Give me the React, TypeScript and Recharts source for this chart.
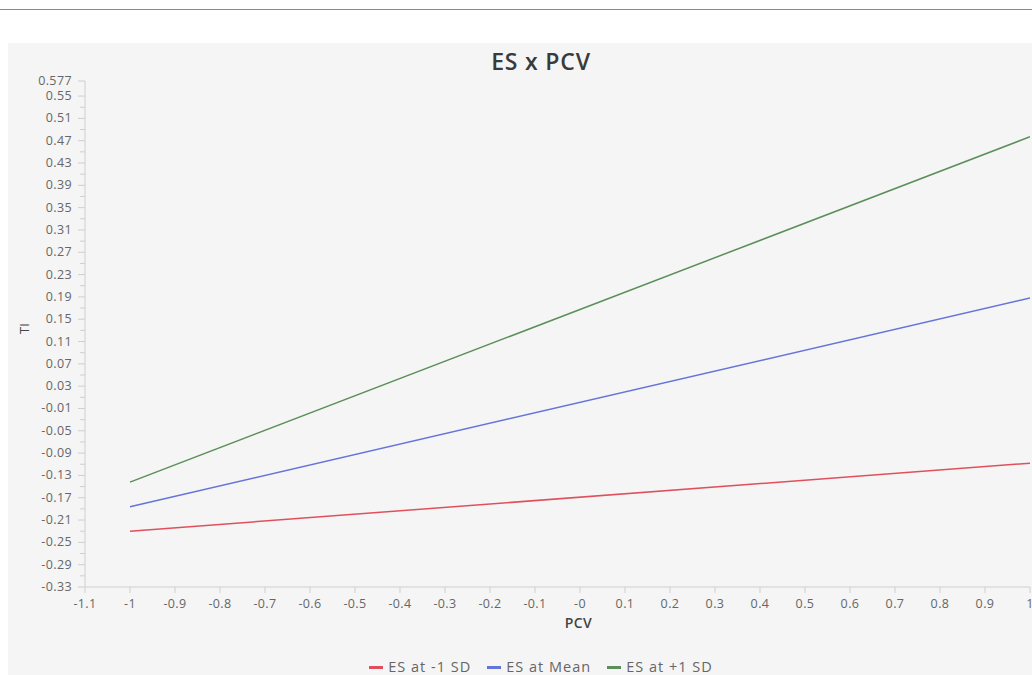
import React from 'react';
import { LineChart, Line, XAxis, YAxis, Legend, Label } from 'recharts';

const pcv = [-1, 1];
const esMinus1SD = [-0.23, -0.108];
const esMean = [-0.186, 0.188];
const esPlus1SD = [-0.142, 0.477];

const seriesNames = ['ES at -1 SD', 'ES at Mean', 'ES at +1 SD'];
const seriesColors = ['#e0505c', '#6474d8', '#5a8f5a'];

const xTicks = [-1.1, -1, -0.9, -0.8, -0.7, -0.6, -0.5, -0.4, -0.3, -0.2, -0.1, 0, 0.1, 0.2, 0.3, 0.4, 0.5, 0.6, 0.7, 0.8, 0.9, 1];
const xTickLabels = ['-1.1', '-1', '-0.9', '-0.8', '-0.7', '-0.6', '-0.5', '-0.4', '-0.3', '-0.2', '-0.1', '-0', '0.1', '0.2', '0.3', '0.4', '0.5', '0.6', '0.7', '0.8', '0.9', '1'];

const yMajorTicks = [0.577, 0.55, 0.51, 0.47, 0.43, 0.39, 0.35, 0.31, 0.27, 0.23, 0.19, 0.15, 0.11, 0.07, 0.03, -0.01, -0.05, -0.09, -0.13, -0.17, -0.21, -0.25, -0.29, -0.33];
const yMinorTicks = [0.53, 0.49, 0.45, 0.41, 0.37, 0.33, 0.29, 0.25, 0.21, 0.17, 0.13, 0.09, 0.05, 0.01, -0.03, -0.07, -0.11, -0.15, -0.19, -0.23, -0.27, -0.31];

const data = pcv.map((x, i) => ({
  pcv: x,
  minus: esMinus1SD[i],
  mean: esMean[i],
  plus: esPlus1SD[i],
}));

const FONT = '"Open Sans", "Noto Sans", sans-serif';

const YTick = (props: any) => {
  const { x, y, payload } = props;
  const v = payload.value;
  const isMajor = yMajorTicks.some((t) => Math.abs(t - v) < 1e-9);
  const label = isMajor ? (Math.abs(v - 0.577) < 1e-9 ? '0.577' : String(v)) : '';
  return (
    <g>
      <line x1={isMajor ? x + 1 : x + 3} x2={x + 8} y1={y} y2={y} stroke="#cfcfcf" strokeWidth={1} />
      {label && (
        <text x={x - 5} y={y} dy={4} textAnchor="end" fill="#666" fontSize={12.5} letterSpacing={0.4} fontFamily={FONT}>
          {label}
        </text>
      )}
    </g>
  );
};

const LegendContent = () => (
  <div style={{ height: 43, display: 'flex', justifyContent: 'center', alignItems: 'flex-end', paddingLeft: 44, boxSizing: 'border-box', fontFamily: FONT, fontSize: 14.5, letterSpacing: 1, color: '#666' }}>
    {seriesNames.map((n, i) => (
      <div key={n} style={{ display: 'flex', alignItems: 'center', marginRight: i < 2 ? 16 : 0, lineHeight: '16px' }}>
        <span style={{ display: 'inline-block', width: 14, height: 3, background: seriesColors[i], marginRight: 5 }} />
        <span>{n}</span>
      </div>
    ))}
  </div>
);

export default function App() {
  return (
    <div style={{ position: 'fixed', top: 0, left: 0, width: 1032, height: 675, overflow: 'hidden', background: '#ffffff' }}>
      <div style={{ position: 'absolute', top: 9, left: 0, width: 1032, height: 1, background: '#8a8a8a' }} />
      <div style={{ position: 'absolute', top: 43, left: 8, width: 1024, height: 632, background: '#f5f5f5' }}>
        <div style={{ position: 'absolute', top: 2, left: 0, width: 1066, textAlign: 'center', fontFamily: FONT, fontSize: 23, letterSpacing: 0.8, fontWeight: 600, color: '#3a3a3a' }}>
          ES x PCV
        </div>
        <LineChart width={1024} height={632} data={data} margin={{ top: 38, right: 2, left: 0, bottom: 0 }}>
          <XAxis
            dataKey="pcv"
            type="number"
            domain={[-1.1, 1]}
            ticks={xTicks}
            interval={0}
            allowDataOverflow
            tickFormatter={(v: number, i: number) => xTickLabels[i]}
            stroke="#cfcfcf"
            tick={{ fill: '#666', fontSize: 12.5, letterSpacing: 0.4, fontFamily: FONT, dy: 4 }}
            height={45}
          >
            <Label value="PCV" position="insideBottom" offset={4} dx={21} fill="#444" fontSize={14} letterSpacing={0.5} fontWeight={600} fontFamily={FONT} />
          </XAxis>
          <YAxis
            type="number"
            domain={[-0.33, 0.577]}
            ticks={[...yMajorTicks, ...yMinorTicks].sort((a, b) => b - a)}
            interval={0}
            allowDataOverflow
            width={77}
            stroke="#cfcfcf"
            tickLine={false}
            tick={<YTick />}
          >
            <Label value="TI" angle={-90} position="insideLeft" offset={16} fill="#444" fontSize={13} fontFamily={FONT} />
          </YAxis>
          <Legend verticalAlign="bottom" content={<LegendContent />} />
          <Line dataKey="minus" name={seriesNames[0]} stroke={seriesColors[0]} strokeWidth={1.5} dot={false} isAnimationActive={false} />
          <Line dataKey="mean" name={seriesNames[1]} stroke={seriesColors[1]} strokeWidth={1.5} dot={false} isAnimationActive={false} />
          <Line dataKey="plus" name={seriesNames[2]} stroke={seriesColors[2]} strokeWidth={1.5} dot={false} isAnimationActive={false} />
        </LineChart>
      </div>
    </div>
  );
}
